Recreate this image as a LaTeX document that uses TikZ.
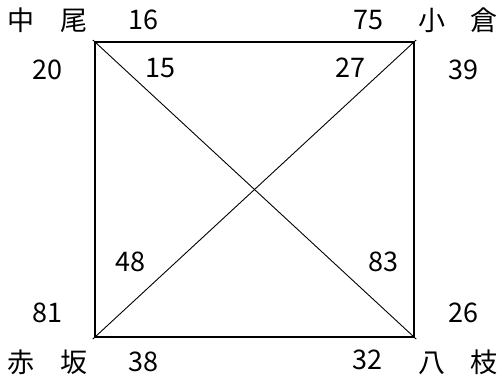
\documentclass[tikz,border=0pt]{standalone}
\usepackage{fontspec}
\setmainfont{Noto Sans CJK JP}
\usepackage{tikz}
\usetikzlibrary{positioning,calc}

\begin{document}
\begin{tikzpicture}[x=1pt,y=-1pt,
  lbl/.style={font=\fontsize{27}{27}\selectfont,inner sep=0pt},
  place/.style={lbl},
  edge/.style={line width=2pt,line join=miter},
  diag/.style={line width=0.9pt,shorten <=-3pt,shorten >=-3pt}]
  \useasboundingbox (0,0) rectangle (502,381);
  % corners of the square
  \coordinate (nw) at (95,42);
  \coordinate (ne) at (414,42);
  \coordinate (sw) at (95,337);
  \coordinate (se) at (414,337);
  % place names
  \node[place] (nakao) at (48,20) {中\hspace{26pt}尾};
  \node[place] (ogura) at (458,20) {小\hspace{26pt}倉};
  \node[place] (akasaka) at (48,362) {赤\hspace{26pt}坂};
  \node[place] (yae) at (458,362) {八\hspace{26pt}枝};
  % numbers
  \node[lbl] (n16) at (143,20) {16};
  \node[lbl] (n20) at (47,70) {20};
  \node[lbl] (n15) at (160,68) {15};
  \node[lbl] (n75) at (368,20) {75};
  \node[lbl] (n27) at (350,68) {27};
  \node[lbl] (n39) at (463,70) {39};
  \node[lbl] (n48) at (130,262) {48};
  \node[lbl] (n81) at (47,313) {81};
  \node[lbl] (n38) at (143,362) {38};
  \node[lbl] (n83) at (383,262) {83};
  \node[lbl] (n26) at (463,313) {26};
  \node[lbl] (n32) at (367,360) {32};
  % square and diagonals
  \draw[edge] (nw) -- (ne) -- (se) -- (sw) -- cycle;
  \draw[diag] (nw) -- (se);
  \draw[diag] (sw) -- (ne);
\end{tikzpicture}
\end{document}
